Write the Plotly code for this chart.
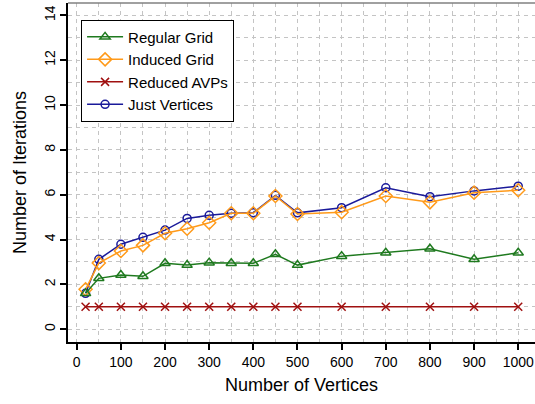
import plotly.graph_objects as go

vertices = [20, 50, 100, 150, 200, 250, 300, 350, 400, 450, 500, 600, 700, 800, 900, 1000]
regular_grid = [1.60, 2.27, 2.42, 2.36, 2.94, 2.86, 2.97, 2.94, 2.94, 3.34, 2.86, 3.26, 3.41, 3.59, 3.12, 3.41]
induced_grid = [1.78, 2.95, 3.49, 3.74, 4.28, 4.48, 4.75, 5.17, 5.17, 5.94, 5.14, 5.22, 5.94, 5.66, 6.09, 6.20]
reduced_avps = [1, 1, 1, 1, 1, 1, 1, 1, 1, 1, 1, 1, 1, 1, 1, 1]
just_vertices = [1.60, 3.12, 3.79, 4.10, 4.42, 4.94, 5.08, 5.17, 5.20, 5.97, 5.19, 5.42, 6.31, 5.91, 6.17, 6.38]

x_ticks = [0, 100, 200, 300, 400, 500, 600, 700, 800, 900, 1000]
y_ticks = [0, 2, 4, 6, 8, 10, 12, 14]

FONT = "Liberation Sans, Arial, sans-serif"

# (name, values, colour, symbol, size, legend rank); drawn in list order
series = [
    ("Just Vertices", just_vertices, "#1a1a9a", "circle-open", 8, 4),
    ("Induced Grid", induced_grid, "#ff9a1a", "diamond-open", 10, 2),
    ("Reduced AVPs", reduced_avps, "#a01010", "x-thin-open", 8, 3),
    ("Regular Grid", regular_grid, "#1f7a1f", "triangle-up-open", 9, 1),
]

fig = go.Figure()
for name, vals, color, sym, size, rank in series:
    fig.add_trace(go.Scatter(
        x=vertices, y=vals, name=name, mode="lines+markers", legendrank=rank,
        line=dict(color=color, width=1.5),
        marker=dict(symbol=sym, size=size, color=color, line=dict(color=color, width=1.5)),
    ))

grid_color = "#c4c4c4"
grid_dash = "4px,4px"
fig.update_layout(
    width=535, height=404,
    margin=dict(l=68, r=0, t=3, b=62, autoexpand=False),
    paper_bgcolor="white", plot_bgcolor="white",
    font=dict(family=FONT, color="black", size=14),
    showlegend=True,
    legend=dict(
        x=0.028, y=0.951, xanchor="left", yanchor="top",
        bgcolor="white", bordercolor="black", borderwidth=1,
        font=dict(size=15, family=FONT), tracegroupgap=0,
        itemwidth=36, traceorder="normal",
    ),
    xaxis=dict(
        range=[-19.8, 1038], tickmode="array", tickvals=x_ticks,
        ticktext=[str(v) for v in x_ticks],
        showline=True, linecolor="black", linewidth=1.5,
        ticks="outside", ticklen=6, tickwidth=1.5, tickcolor="black",
        showgrid=True, gridcolor=grid_color, griddash=grid_dash, gridwidth=1,
        minor=dict(dtick=50, tick0=0, showgrid=True, gridcolor=grid_color, griddash=grid_dash, ticks=""),
        zeroline=False, automargin=False,
        title=dict(text="Number of Vertices", font=dict(size=18), standoff=10),
        tickfont=dict(size=14),
    ),
    yaxis=dict(
        range=[-0.57, 14.55], tickmode="array", tickvals=y_ticks,
        ticktext=[str(v) for v in y_ticks],
        tickangle=-90,
        showline=True, linecolor="black", linewidth=1.5,
        ticks="outside", ticklen=6, tickwidth=1.5, tickcolor="black",
        showgrid=True, gridcolor=grid_color, griddash=grid_dash, gridwidth=1,
        minor=dict(dtick=1, tick0=0, showgrid=True, gridcolor=grid_color, griddash=grid_dash, ticks=""),
        zeroline=False, automargin=False,
        title=dict(text="Number of Iterations", font=dict(size=18), standoff=10),
        tickfont=dict(size=14),
    ),
)

fig.add_shape(type="line", xref="paper", yref="paper", x0=0, x1=1, y0=1, y1=1,
              line=dict(color="#808080", width=1.5))

fig.write_html(
    "out.html",
    config={"displayModeBar": False},
    post_script="document.body.style.margin='0';document.body.style.overflow='hidden';",
)
